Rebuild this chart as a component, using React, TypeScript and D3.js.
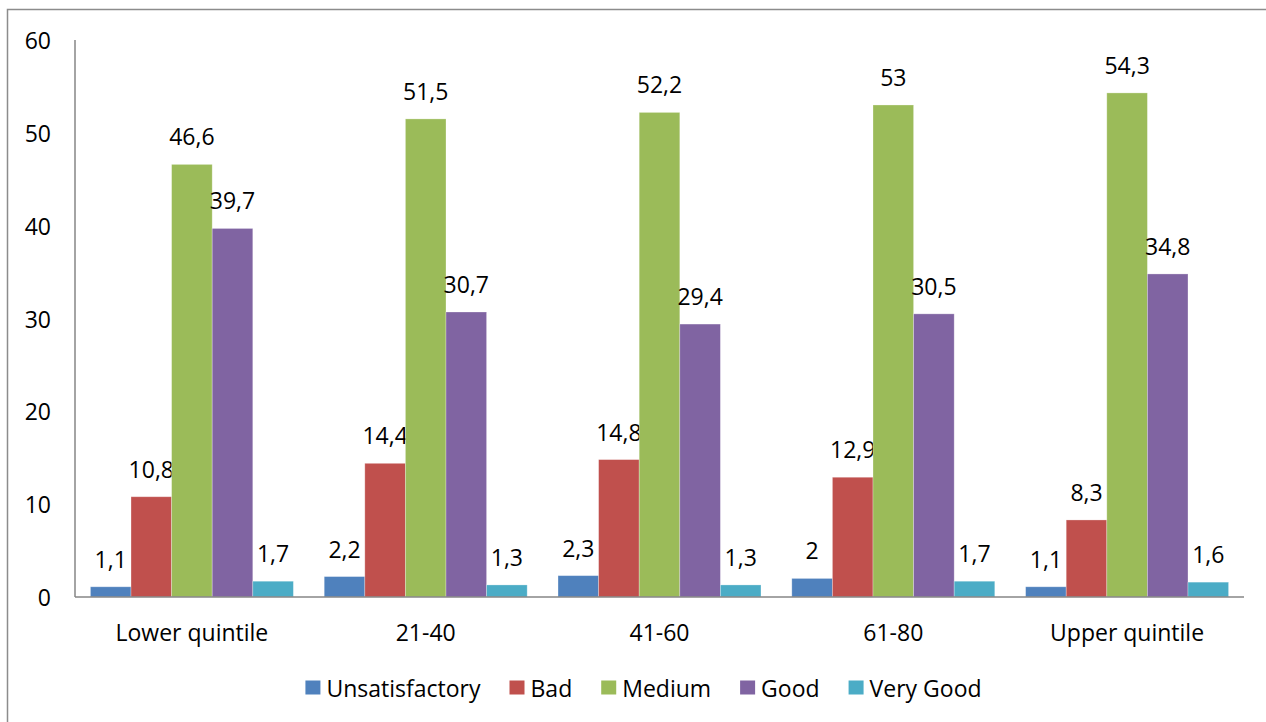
import React, { useEffect, useRef } from "react";
import * as d3 from "d3";

const categories = ["Lower quintile", "21-40", "41-60", "61-80", "Upper quintile"];
const seriesNames = ["Unsatisfactory", "Bad", "Medium", "Good", "Very Good"];
const unsatisfactory = [1.1, 2.2, 2.3, 2, 1.1];
const bad = [10.8, 14.4, 14.8, 12.9, 8.3];
const medium = [46.6, 51.5, 52.2, 53, 54.3];
const good = [39.7, 30.7, 29.4, 30.5, 34.8];
const veryGood = [1.7, 1.3, 1.3, 1.7, 1.6];
const yTicks = [0, 10, 20, 30, 40, 50, 60];
const colors = ["#4F81BD", "#C0504D", "#9BBB59", "#8064A2", "#4BACC6"];

const W = 1266;
const H = 722;
const FONT = "'Open Sans', 'Liberation Sans', sans-serif";
const FS = 23;

export default function App() {
  const ref = useRef<SVGSVGElement | null>(null);

  useEffect(() => {
    const svg = d3.select(ref.current);
    svg.selectAll("*").remove();
    const values = [unsatisfactory, bad, medium, good, veryGood];

    const left = 75, right = 1244, top = 40, bottom = 597;

    svg.append("rect")
      .attr("x", 7.5).attr("y", 9.5).attr("width", 1272).attr("height", 760)
      .attr("fill", "white").attr("stroke", "#8c8c8c").attr("stroke-width", 1.5);

    const y = d3.scaleLinear().domain([0, 60]).range([bottom, top]);
    const x0 = d3.scaleBand<string>().domain(categories).range([left, right]).padding(0);
    const x1 = d3.scaleBand<string>().domain(seriesNames).range([0, x0.step()])
      .paddingInner(0).paddingOuter(0.38);

    const g = svg.append("g");

    categories.forEach((cat, ci) => {
      seriesNames.forEach((s, si) => {
        const v = values[si][ci];
        const bx = (x0(cat) as number) + (x1(s) as number);
        const bw = x1.bandwidth();
        g.append("rect")
          .attr("x", bx).attr("y", y(v))
          .attr("width", bw).attr("height", y(0) - y(v))
          .attr("fill", colors[si])
          .attr("stroke", "white").attr("stroke-opacity", 0.35).attr("stroke-width", 0.8);
        g.append("text")
          .attr("x", bx + bw / 2).attr("y", y(v) - 28)
          .attr("text-anchor", "middle").attr("dominant-baseline", "central")
          .attr("font-family", FONT).attr("font-size", FS).attr("fill", "#000")
          .text(String(v).replace(".", ","));
      });
      g.append("text")
        .attr("x", (x0(cat) as number) + x0.bandwidth() / 2).attr("y", 632)
        .attr("text-anchor", "middle").attr("dominant-baseline", "central")
        .attr("font-family", FONT).attr("font-size", FS).attr("fill", "#000")
        .text(cat);
    });

    // axes
    svg.append("line").attr("x1", left).attr("x2", left).attr("y1", top).attr("y2", bottom)
      .attr("stroke", "#868686").attr("stroke-width", 1.5);
    svg.append("line").attr("x1", left).attr("x2", right).attr("y1", bottom).attr("y2", bottom)
      .attr("stroke", "#868686").attr("stroke-width", 1.5);

    yTicks.forEach((t) => {
      svg.append("text")
        .attr("x", 51).attr("y", y(t))
        .attr("text-anchor", "end").attr("dominant-baseline", "central")
        .attr("font-family", FONT).attr("font-size", FS).attr("fill", "#000")
        .text(String(t));
    });

    // legend
    const lg = svg.append("g");
    let cx = 0;
    const sqW = 15, sqH = 14, gapSqText = 6, gapItems = 29;
    seriesNames.forEach((s, si) => {
      const item = lg.append("g").attr("transform", `translate(${cx},0)`);
      item.append("rect").attr("x", 0).attr("y", -sqH / 2).attr("width", sqW).attr("height", sqH)
        .attr("fill", colors[si]);
      const t = item.append("text")
        .attr("x", sqW + gapSqText).attr("y", 0)
        .attr("dominant-baseline", "central")
        .attr("font-family", FONT).attr("font-size", FS).attr("fill", "#000")
        .text(s);
      const tw = (t.node() as SVGTextElement).getComputedTextLength();
      cx += sqW + gapSqText + tw + gapItems;
    });
    const total = cx - gapItems;
    lg.attr("transform", `translate(${643.5 - total / 2},687.5)`);
  }, []);

  return (
    <svg ref={ref} width={W} height={H}
      style={{ position: "absolute", left: 0, top: 0, background: "white" }} />
  );
}
